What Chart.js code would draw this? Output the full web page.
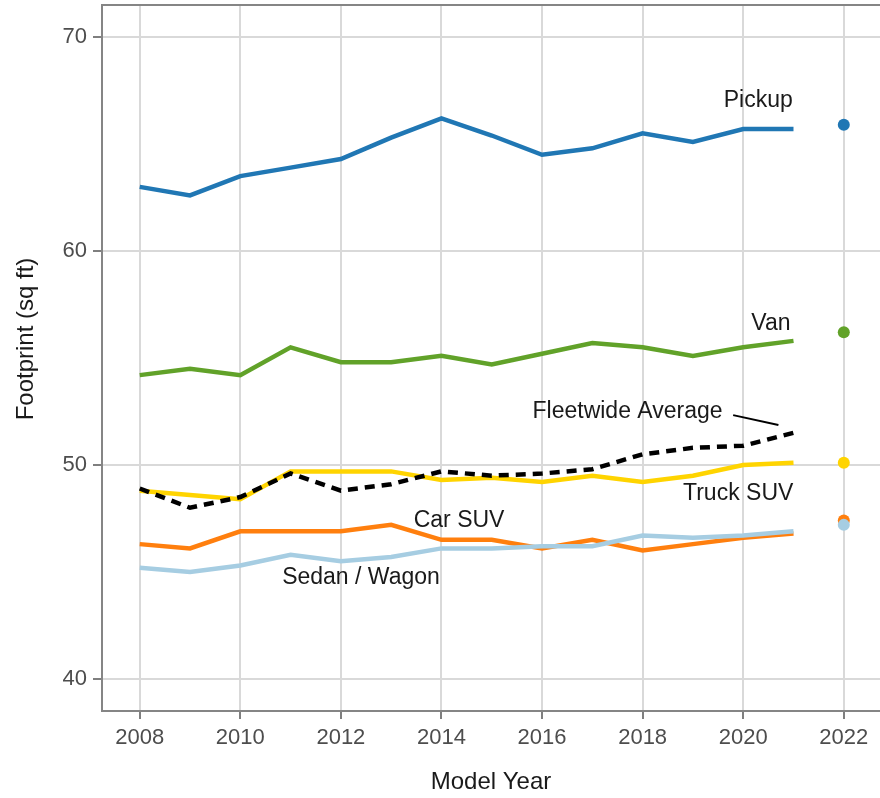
<!doctype html>
<html lang="en">
  <head>
    <meta charset="utf-8">
    <title>Footprint by Vehicle Type</title>
    <style>
      html, body { margin: 0; padding: 0; background: #fff; overflow: hidden; }
      .chart-box { position: relative; width: 880px; height: 798px; }
      canvas { display: block; }
    </style>
  </head>
  <body>
    <div class="chart-box">
      <canvas id="myChart"></canvas>
    </div>

    <script src="https://cdn.jsdelivr.net/npm/chart.js"></script>
    <script>
        // model years and footprint values (sq ft)
        var years = [2008, 2009, 2010, 2011, 2012, 2013, 2014, 2015, 2016, 2017, 2018, 2019, 2020, 2021];
        var pickup = [63.0, 62.6, 63.5, 63.9, 64.3, 65.3, 66.2, 65.4, 64.5, 64.8, 65.5, 65.1, 65.7, 65.7];
        var van = [54.2, 54.5, 54.2, 55.5, 54.8, 54.8, 55.1, 54.7, 55.2, 55.7, 55.5, 55.1, 55.5, 55.8];
        var truckSuv = [48.8, 48.6, 48.4, 49.7, 49.7, 49.7, 49.3, 49.4, 49.2, 49.5, 49.2, 49.5, 50.0, 50.1];
        var carSuv = [46.3, 46.1, 46.9, 46.9, 46.9, 47.2, 46.5, 46.5, 46.1, 46.5, 46.0, 46.3, 46.6, 46.8];
        var sedanWagon = [45.2, 45.0, 45.3, 45.8, 45.5, 45.7, 46.1, 46.1, 46.2, 46.2, 46.7, 46.6, 46.7, 46.9];
        var fleetAvg = [48.9, 48.0, 48.5, 49.6, 48.8, 49.1, 49.7, 49.5, 49.6, 49.8, 50.5, 50.8, 50.9, 51.5];

        // 2022 projected values: pickup, van, truck suv, car suv, sedan/wagon
        var projYear = 2022;
        var proj2022 = [65.9, 56.2, 50.1, 47.4, 47.2];

        var xTicks = [2008, 2010, 2012, 2014, 2016, 2018, 2020, 2022];
        var yTicks = [40, 50, 60, 70];

        var colors = {
            pickup: '#2077b4',
            van: '#61a229',
            truck: '#ffd400',
            car: '#ff7f0e',
            sedan: '#a6cde2',
            fleet: '#000000'
        };

        // in-plot labels (data coordinates)
        var labelText = ['Pickup', 'Van', 'Fleetwide Average', 'Truck SUV', 'Car SUV', 'Sedan / Wagon'];
        var labelX = [2020.3, 2020.55, 2017.7, 2019.9, 2014.35, 2012.4];
        var labelY = [67.05, 56.6, 52.5, 48.65, 47.4, 44.75];

        var fontFamily = '"Liberation Sans", Arial, sans-serif';

        function pts(vals) {
            return vals.map(function (v, i) { return { x: years[i], y: v }; });
        }

        function lineSet(label, vals, color) {
            return {
                label: label,
                data: pts(vals),
                borderColor: color,
                backgroundColor: color,
                borderWidth: 4.5,
                pointRadius: 0,
                tension: 0,
                fill: false
            };
        }

        var fleetSet = lineSet('Fleetwide Average', fleetAvg, colors.fleet);
        fleetSet.borderDash = [10, 7];
        fleetSet.borderCapStyle = 'butt';

        var projSet = {
            label: '2022',
            data: proj2022.map(function (v) { return { x: projYear, y: v }; }),
            showLine: false,
            pointRadius: 6,
            pointBorderWidth: 0,
            pointBackgroundColor: [colors.pickup, colors.van, colors.truck, colors.car, colors.sedan],
            pointBorderColor: [colors.pickup, colors.van, colors.truck, colors.car, colors.sedan]
        };

        // first dataset is drawn on top in Chart.js
        var datasets = [
            projSet,
            fleetSet,
            lineSet('Sedan / Wagon', sedanWagon, colors.sedan),
            lineSet('Car SUV', carSuv, colors.car),
            lineSet('Truck SUV', truckSuv, colors.truck),
            lineSet('Van', van, colors.van),
            lineSet('Pickup', pickup, colors.pickup)
        ];

        var annotations = {
            id: 'annotations',
            afterDatasetsDraw: function (chart) {
                var ctx = chart.ctx;
                var xs = chart.scales.x, ys = chart.scales.y;
                var area = chart.chartArea;
                ctx.save();
                // top frame line
                ctx.strokeStyle = '#858585';
                ctx.lineWidth = 2;
                ctx.beginPath();
                ctx.moveTo(area.left, area.top);
                ctx.lineTo(area.right, area.top);
                ctx.stroke();

                ctx.fillStyle = '#1a1a1a';
                ctx.font = '23px ' + fontFamily;
                ctx.textAlign = 'center';
                ctx.textBaseline = 'middle';
                for (var i = 0; i < labelText.length; i++) {
                    ctx.fillText(labelText[i], xs.getPixelForValue(labelX[i]), ys.getPixelForValue(labelY[i]));
                }
                // leader line for fleetwide average
                ctx.strokeStyle = '#000';
                ctx.lineWidth = 2;
                ctx.beginPath();
                ctx.moveTo(xs.getPixelForValue(2019.8), ys.getPixelForValue(52.33));
                ctx.lineTo(xs.getPixelForValue(2020.7), ys.getPixelForValue(51.87));
                ctx.stroke();

                // y axis title, sits a bit above the plot centre in the original
                ctx.translate(26, 339);
                ctx.rotate(-Math.PI / 2);
                ctx.font = '24px ' + fontFamily;
                ctx.fillText('Footprint (sq ft)', 0, 0);
                ctx.restore();
            }
        };

        const ctx = document.getElementById('myChart');
        new Chart(ctx, {
            type: 'line',
            data: { datasets: datasets },
            options: {
                responsive: true,
                maintainAspectRatio: false,
                animation: false,
                layout: { autoPadding: false, padding: { top: 5, right: 0, left: 0, bottom: 0 } },
                plugins: {
                    legend: { display: false },
                    tooltip: { enabled: false }
                },
                scales: {
                    x: {
                        type: 'linear',
                        min: 2007.25,
                        max: 2022.72,
                        afterBuildTicks: function (s) { s.ticks = xTicks.map(function (v) { return { value: v }; }); },
                        afterFit: function (s) {
                            s.height = 87;
                            s.paddingLeft = 0;
                            s.paddingRight = 0;
                        },
                        grid: {
                            color: '#d9d9d9',
                            lineWidth: 2,
                            tickColor: '#7f7f7f',
                            tickWidth: 2,
                            tickLength: 8
                        },
                        border: { color: '#858585', width: 2 },
                        ticks: {
                            color: '#4d4d4d',
                            font: { family: fontFamily, size: 22 },
                            padding: 6,
                            maxRotation: 0,
                            callback: function (v) { return String(v); }
                        },
                        title: {
                            display: true,
                            text: 'Model Year',
                            color: '#1a1a1a',
                            font: { family: fontFamily, size: 24 },
                            padding: { top: 0, bottom: 1 }
                        }
                    },
                    y: {
                        min: 38.5,
                        max: 71.5,
                        afterBuildTicks: function (s) { s.ticks = yTicks.map(function (v) { return { value: v }; }); },
                        afterFit: function (s) {
                            s.width = 102;
                            s.paddingTop = 0;
                            s.paddingBottom = 0;
                        },
                        grid: {
                            color: '#d9d9d9',
                            lineWidth: 2,
                            tickColor: '#7f7f7f',
                            tickWidth: 2,
                            tickLength: 9
                        },
                        border: { color: '#858585', width: 2 },
                        ticks: {
                            color: '#4d4d4d',
                            font: { family: fontFamily, size: 22 },
                            padding: 6,
                            callback: function (v) { return String(v); }
                        },
                        title: { display: false }
                    }
                }
            },
            plugins: [annotations]
        });
    </script>
  </body>
</html>
